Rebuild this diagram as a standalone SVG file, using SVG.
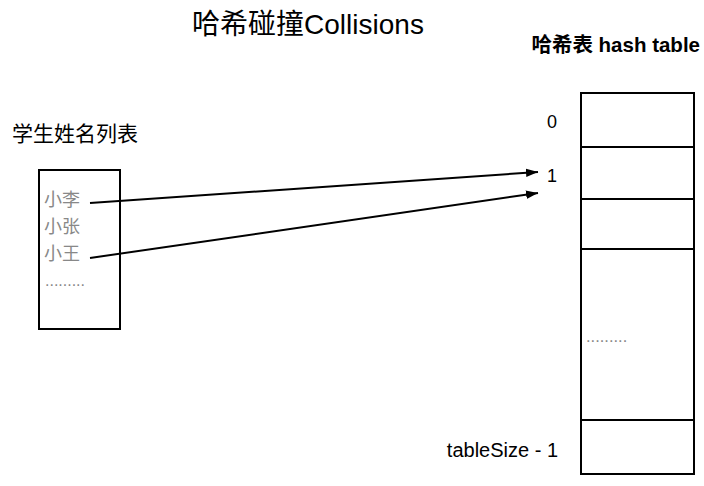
<svg xmlns="http://www.w3.org/2000/svg" width="704" height="486" viewBox="0 0 704 486">
<defs>
<style>
text{font-family:"Liberation Sans","Noto Sans CJK SC",sans-serif;fill:#000}
.box{fill:#fff;stroke:#000;stroke-width:2}
.grey{fill:#888}
.conn{stroke:#000;stroke-width:2;fill:none;marker-end:url(#ah)}
</style>
<marker id="ah" viewBox="0 0 10 10" refX="10" refY="5" markerWidth="6" markerHeight="6" orient="auto" markerUnits="strokeWidth">
<path d="M0,1.5 L10,5 L0,8.5 z" fill="#000"/>
</marker>
</defs>
<rect width="704" height="486" fill="#fff"/>
<text x="308" y="34" font-size="28" text-anchor="middle">哈希碰撞Collisions</text>
<g id="students">
<text x="12" y="141" font-size="21">学生姓名列表</text>
<rect class="box" x="39" y="170" width="81" height="159"/>
<text class="grey" x="44" y="206" font-size="18">小李</text>
<text class="grey" x="44" y="233" font-size="18">小张</text>
<text class="grey" x="44" y="260" font-size="18">小王</text>
<text class="grey" x="45" y="286" font-size="16">.........</text>
</g>
<g id="hashtable">
<text x="700" y="52" font-size="20.5" font-weight="bold" text-anchor="end">哈希表 hash table</text>
<rect class="box" x="581" y="93" width="113" height="381"/>
<line x1="581" y1="147" x2="694" y2="147" stroke="#000" stroke-width="2"/>
<line x1="581" y1="199" x2="694" y2="199" stroke="#000" stroke-width="2"/>
<line x1="581" y1="249" x2="694" y2="249" stroke="#000" stroke-width="2"/>
<line x1="581" y1="420" x2="694" y2="420" stroke="#000" stroke-width="2"/>
<text x="547" y="128" font-size="18">0</text>
<text x="547" y="182" font-size="18">1</text>
<text class="grey" x="586" y="342" font-size="16.5">.........</text>
<text x="558" y="457" font-size="20" text-anchor="end">tableSize - 1</text>
</g>
<g id="connectors">
<line class="conn" x1="90" y1="203" x2="538" y2="172"/>
<line class="conn" x1="90" y1="258" x2="538" y2="193"/>
</g>
</svg>
